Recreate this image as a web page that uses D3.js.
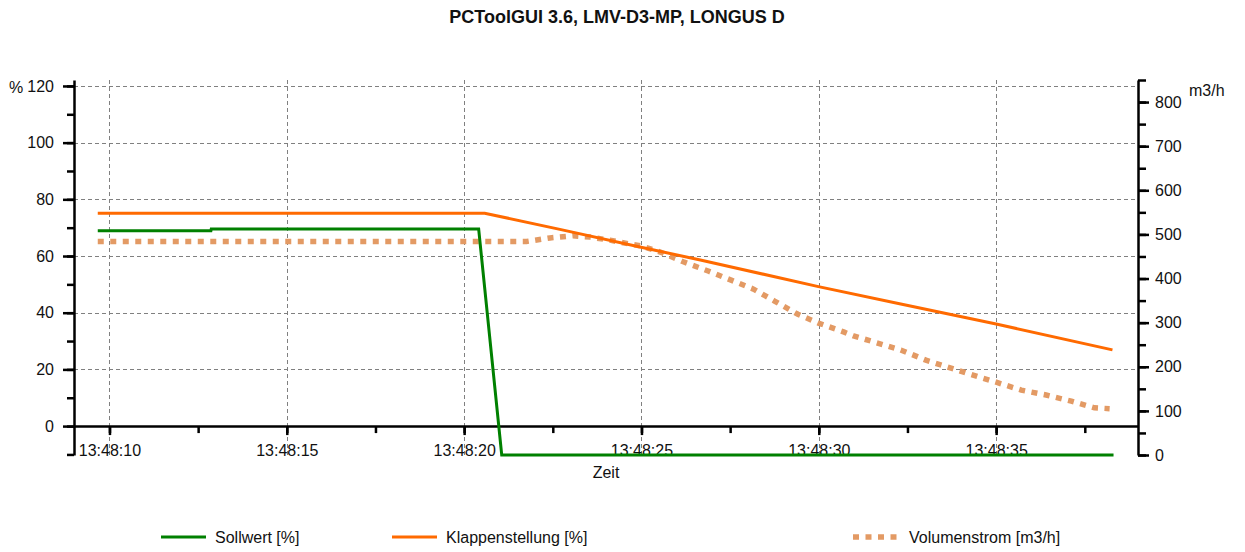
<!DOCTYPE html>
<html>
<head>
<meta charset="utf-8">
<script src="https://cdn.jsdelivr.net/npm/d3@7"></script>
<style>
  html, body { margin: 0; padding: 0; background: #fff; }
  svg { display: block; font-family: "Liberation Sans", Arial, sans-serif; }
</style>
</head>
<body>
<svg id="chart" width="1245" height="552"></svg>
<script>
// ---------------- data ----------------
const titleText = "PCToolGUI 3.6, LMV-D3-MP, LONGUS D";
const xLabel = "Zeit";
const leftUnit = "%";
const rightUnit = "m3/h";
const seriesNames = ["Sollwert [%]", "Klappenstellung [%]", "Volumenstrom [m3/h]"];

const timeDomain = ["13:48:09.000", "13:48:39.000"];
const leftDomain = [-10.2, 122.1];
const rightDomain = [0, 850];
const leftTicks = [-10, 0, 10, 20, 30, 40, 50, 60, 70, 80, 90, 100, 110, 120];
const leftLabelTicks = [0, 20, 40, 60, 80, 100, 120];
const rightTicks = [0, 50, 100, 150, 200, 250, 300, 350, 400, 450, 500, 550, 600, 650, 700, 750, 800, 850];
const rightLabelTicks = [0, 100, 200, 300, 400, 500, 600, 700, 800];

// Sollwert [%] (left axis)
const sollTimes  = ["13:48:09.670", "13:48:12.860", "13:48:12.870", "13:48:20.410", "13:48:21.060", "13:48:38.310"];
const sollValues = [68.9, 68.9, 69.5, 69.5, -10.2, -10.2];

// Klappenstellung [%] (left axis)
const klapTimes  = ["13:48:09.670", "13:48:20.580", "13:48:22.700", "13:48:24.990", "13:48:26.660", "13:48:29.990", "13:48:32.310", "13:48:35.000", "13:48:38.280"];
const klapValues = [75.1, 75.1, 69.4, 63.1, 58.6, 49.2, 43.1, 36.0, 26.9];

// Volumenstrom [m3/h] (right axis)
const volTimes  = ["13:48:09.670", "13:48:21.760", "13:48:22.420", "13:48:23.070", "13:48:23.550", "13:48:24.110", "13:48:24.680", "13:48:24.990",
                   "13:48:25.530", "13:48:26.180", "13:48:26.880", "13:48:27.510", "13:48:28.160", "13:48:28.750", "13:48:29.410", "13:48:29.990",
                   "13:48:30.700", "13:48:30.980", "13:48:32.310", "13:48:33.020", "13:48:33.730", "13:48:34.350", "13:48:35.000", "13:48:35.710",
                   "13:48:36.410", "13:48:37.120", "13:48:37.770", "13:48:38.200"];
const volValues = [484, 484, 492, 497, 494, 487, 478, 474,
                   460, 438, 417, 397, 376, 349, 319, 299,
                   279, 270, 238, 215, 197, 181, 165, 147,
                   136, 122, 107, 105];

const colors = ["#008000", "#FF6A00", "#E39A64"];

// ---------------- drawing ----------------
const parse = d3.timeParse("%H:%M:%S.%L");
const svg = d3.select("#chart");

const L = 74, R = 1138, T = 80, B = 455;

const x = d3.scaleTime().domain(timeDomain.map(parse)).range([L, R]);
const yL = d3.scaleLinear().domain(leftDomain).range([B, T]);
const yR = d3.scaleLinear().domain(rightDomain).range([B, T]);
const x0 = yL(0);

const majorX = d3.timeSecond.every(5).range(parse("13:48:10.000"), parse("13:48:39.000"));
const minorX = d3.timeMillisecond.every(2500).range(parse("13:48:09.000"), parse("13:48:39.000"));

// grid
const grid = svg.append("g").attr("stroke", "#808080").attr("stroke-width", 1).attr("stroke-dasharray", "4,3").attr("fill", "none");
grid.selectAll("line.h").data(leftLabelTicks.filter(v => v > 0)).join("line")
  .attr("x1", L).attr("x2", R).attr("y1", d => Math.round(yL(d)) + 0.5).attr("y2", d => Math.round(yL(d)) + 0.5);
grid.selectAll("line.v").data(majorX).join("line")
  .attr("y1", T).attr("y2", B).attr("x1", d => Math.round(x(d)) + 0.5).attr("x2", d => Math.round(x(d)) + 0.5);

// axes
function styleAxis(g) {
  g.selectAll("path.domain").attr("stroke", "#000").attr("stroke-width", 2.5);
  g.selectAll(".tick line").attr("stroke", "#000").attr("stroke-width", 2.5);
  g.selectAll("text").attr("fill", "#111").style("font-size", "16px").style("font-family", "'Liberation Sans', Arial, sans-serif");
}

// left axis
const gLminor = svg.append("g").attr("transform", `translate(${L},0)`)
  .call(d3.axisLeft(yL).tickValues(leftTicks).tickSize(7).tickSizeOuter(0).tickFormat(""));
styleAxis(gLminor);
const gL = svg.append("g").attr("transform", `translate(${L},0)`)
  .call(d3.axisLeft(yL).tickValues(leftLabelTicks).tickSize(11).tickSizeOuter(0).tickPadding(9));
styleAxis(gL);
gL.select("path.domain").remove();

// right axis
const gRminor = svg.append("g").attr("transform", `translate(${R},0)`)
  .call(d3.axisRight(yR).tickValues(rightTicks).tickSize(8).tickSizeOuter(0).tickFormat(""));
styleAxis(gRminor);
const gR = svg.append("g").attr("transform", `translate(${R},0)`)
  .call(d3.axisRight(yR).tickValues(rightLabelTicks).tickSize(11).tickSizeOuter(0).tickPadding(6));
styleAxis(gR);
gR.select("path.domain").remove();

// bottom axis at left-axis zero
const gXminor = svg.append("g").attr("transform", `translate(0,${x0})`)
  .call(d3.axisBottom(x).tickValues(minorX.filter(d => d > x.domain()[0])).tickSize(7).tickSizeOuter(0).tickFormat(""));
styleAxis(gXminor);
const gX = svg.append("g").attr("transform", `translate(0,${x0})`)
  .call(d3.axisBottom(x).tickValues(majorX).tickSize(9).tickSizeOuter(0).tickPadding(10).tickFormat(d3.timeFormat("%H:%M:%S")));
styleAxis(gX);
gX.select("path.domain").remove();

// lines
const toPts = (ts, vs) => ts.map((t, i) => [parse(t), vs[i]]);
const lineL = d3.line().x(d => x(d[0])).y(d => yL(d[1]));
const lineR = d3.line().x(d => x(d[0])).y(d => yR(d[1]));

svg.append("path").datum(toPts(volTimes, volValues)).attr("d", lineR)
  .attr("fill", "none").attr("stroke", colors[2]).attr("stroke-width", 5.5).attr("stroke-dasharray", "6,6.5");
svg.append("path").datum(toPts(klapTimes, klapValues)).attr("d", lineL)
  .attr("fill", "none").attr("stroke", colors[1]).attr("stroke-width", 3);
svg.append("path").datum(toPts(sollTimes, sollValues)).attr("d", lineL)
  .attr("fill", "none").attr("stroke", colors[0]).attr("stroke-width", 3);

// texts
svg.append("text").attr("x", 617).attr("y", 23).attr("text-anchor", "middle")
  .style("font-size", "18px").style("font-weight", "bold").attr("fill", "#111").text(titleText);
svg.append("text").attr("x", 606).attr("y", 478).attr("text-anchor", "middle")
  .style("font-size", "16px").attr("fill", "#111").text(xLabel);
svg.append("text").attr("x", 9).attr("y", 93)
  .style("font-size", "16px").attr("fill", "#111").text(leftUnit);
svg.append("text").attr("x", 1189).attr("y", 96)
  .style("font-size", "16px").attr("fill", "#111").text(rightUnit);

// legend
const legendX = [161, 392, 853];
const leg = svg.append("g");
seriesNames.forEach((name, i) => {
  const l = leg.append("line").attr("x1", legendX[i]).attr("x2", legendX[i] + 45)
    .attr("y1", 537).attr("y2", 537).attr("stroke", colors[i]);
  if (i === 2) l.attr("stroke-width", 5.5).attr("stroke-dasharray", "6,6.5");
  else l.attr("stroke-width", 3);
  leg.append("text").attr("x", legendX[i] + (i === 2 ? 56 : 54)).attr("y", 543)
    .style("font-size", "16px").attr("fill", "#111").text(name);
});
</script>
</body>
</html>
